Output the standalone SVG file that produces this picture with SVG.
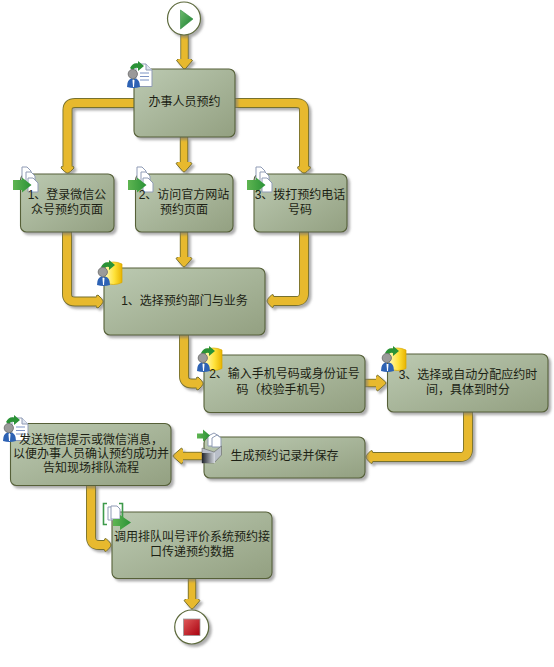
<svg xmlns="http://www.w3.org/2000/svg" xmlns:xlink="http://www.w3.org/1999/xlink" width="554" height="667" viewBox="0 0 554 667">
<style>
text{font-family:"Liberation Sans","Noto Sans CJK SC",sans-serif;font-size:12px;fill:#1c1f14;text-anchor:middle}
.box{fill:url(#nodeFill);stroke:#566138;stroke-width:1.1;filter:url(#sh)}
.o,.O{fill:none;stroke:#77712f;stroke-linejoin:round}
.f,.F{fill:none;stroke:#e7b92d;stroke-linejoin:round}
.o{stroke-width:8.4}.f{stroke-width:6.6}
.O{stroke-width:10}.F{stroke-width:8.2}
.big{marker-end:url(#headBig)}
.small{marker-end:url(#headSmall)}
.ln{stroke:#7d93c4;stroke-width:1;fill:none}
.page{fill:#fff;stroke:#8f9bb5;stroke-width:1}
</style>
<defs>
<linearGradient id="nodeFill" x1="0" y1="0" x2="1" y2="1"><stop offset="0" stop-color="#bccab2"/><stop offset="1" stop-color="#93a081"/></linearGradient>
<linearGradient id="cyl" x1="0" y1="0" x2="1" y2="0"><stop offset="0" stop-color="#fff9b8"/><stop offset=".55" stop-color="#ffe23a"/><stop offset="1" stop-color="#e8b400"/></linearGradient>
<linearGradient id="play" x1="0" y1="0" x2="1" y2="1"><stop offset="0" stop-color="#6dbb6d"/><stop offset="1" stop-color="#1a7f30"/></linearGradient>
<linearGradient id="red" x1="0" y1="0" x2="1" y2="1"><stop offset="0" stop-color="#e05a5a"/><stop offset="1" stop-color="#a8000e"/></linearGradient>
<linearGradient id="tray" x1="0" y1="0" x2="1" y2="0"><stop offset="0" stop-color="#20242c"/><stop offset="1" stop-color="#d9dde3"/></linearGradient>
<linearGradient id="grn" x1="0" y1="0" x2="1" y2="0"><stop offset="0" stop-color="#5fb552"/><stop offset="1" stop-color="#2a9236"/></linearGradient>
<filter id="sh" x="-10%" y="-10%" width="125%" height="125%"><feDropShadow dx="2.5" dy="2.5" stdDeviation="1.2" flood-color="#777" flood-opacity=".6"/></filter>
<marker id="headBig" markerUnits="userSpaceOnUse" markerWidth="16" markerHeight="22" refX="1" refY="11" orient="auto"><path d="M-2,7 L1.500,3 L8,8.600 Q10,10 10,11 Q10,12 8,13.400 L1.500,19 L-2,15Z" fill="#e7b92d" stroke="#77712f"/></marker>
<marker id="headSmall" markerUnits="userSpaceOnUse" markerWidth="12" markerHeight="22" refX="1" refY="11" orient="auto"><path d="M0,5.500 L2,4.500 L5.500,8 Q7,10 7,11 Q7,12 5.500,14 L2,17.500 L0,16.500Z" fill="#e7b92d" stroke="#77712f"/></marker>
<g id="person"><circle cx="5.800" cy="12" r="4.600" fill="#9a9a9a" stroke="#777"/><path d="M0,25 Q0,17 5,16.500 L6.500,18 L8,16.500 Q13,17 13,25 Q6.500,27 0,25Z" fill="#2d62b4"/><path d="M5.500,18 L7.500,18 L7,25 L6,25Z" fill="#fff"/></g>
<path id="curl" d="M0,6 Q3,0 8,1.500 L8,-1 L14,4 L8,9 L8,6 Q4,5 3.500,9Z" fill="#2a9236"/>
<g id="docPerson"><path class="page" d="M9,2 H19 L25,8 V24.500 H9Z"/><path class="ln" d="M13,11 H22 M13,14.500 H22 M13,18 H22"/><path d="M19,2 V8 H25" fill="#dfe5f0" stroke="#8f9bb5"/><use xlink:href="#curl" x="3"/><use xlink:href="#person"/></g>
<g id="docsArrow"><path class="page" d="M9,0 H14 L18,4 V14 H9Z"/><path class="page" d="M13,5 H18 L22,9 V19 H13Z"/><path class="page" d="M15,11 H20 L25,16 V25 H15Z"/><path d="M0,13 H9 V10.500 L18.500,18 L9,25.500 V23 H0Z" fill="url(#grn)"/></g>
<g id="dbPerson"><path d="M8,3 Q16.500,-1 25,3 V21.500 Q16.500,25.500 8,21.500Z" fill="url(#cyl)" stroke="#d9a800" stroke-width=".7"/><use xlink:href="#curl" x="4"/><use xlink:href="#person" y="-1"/></g>
</defs>

<g id="connectors" filter="url(#sh)">
<path class="o big" d="M184.500,34 V60"/><path class="f" d="M184.500,34 V61"/>
<path class="O small" d="M134,103 H75 Q67.500,103 67.500,110 V167"/><path class="F" d="M134,103 H75 Q67.500,103 67.500,110 V168"/>
<path class="o big" d="M184,137 V163"/><path class="f" d="M184,137 V164"/>
<path class="O small" d="M235,103 H296 Q304,103 304,110 V167"/><path class="F" d="M235,103 H296 Q304,103 304,110 V168"/>
<path class="O small" d="M67,232 V294 Q67,301.500 75,301.500 H97"/><path class="F" d="M67,232 V294 Q67,301.500 75,301.500 H98"/>
<path class="o big" d="M184,232 V258"/><path class="f" d="M184,232 V259"/>
<path class="O small" d="M304,232 V293 Q304,301 296,301 H273"/><path class="F" d="M304,232 V293 Q304,301 296,301 H272"/>
<path class="O small" d="M184,335 V376 Q184,383.500 192,383.500 H197"/><path class="F" d="M184,335 V376 Q184,383.500 192,383.500 H198"/>
<path class="o big" d="M365,383 H377"/><path class="f" d="M365,383 H378"/>
<path class="O small" d="M468,412 V449 Q468,457 460,457 H372"/><path class="F" d="M468,412 V449 Q468,457 460,457 H371"/>
<path class="o big" d="M204,456 H182"/><path class="f" d="M204,456 H181"/>
<path class="O small" d="M91,485 V537 Q91,545 99,545 H105"/><path class="F" d="M91,485 V537 Q91,545 99,545 H106"/>
<path class="o big" d="M192,578 V600"/><path class="f" d="M192,578 V601"/>
</g>

<g id="start"><circle cx="184" cy="18.500" r="16.500" fill="#fff" stroke="#5d6a3c" stroke-width="1.200" filter="url(#sh)"/><path d="M180.500,10 L193,19 L180.500,29Z" fill="url(#play)" stroke="#2e8b3c" stroke-width=".6"/></g>

<g id="n-apply"><rect class="box" x="134" y="69" width="101" height="68" rx="6"/><use xlink:href="#docPerson" x="127" y="62"/><text x="184.500" y="106">办事人员预约</text></g>

<g id="n-wechat"><rect class="box" x="20.500" y="174" width="93.500" height="58" rx="6"/><use xlink:href="#docsArrow" x="13" y="167"/><text x="67" y="199">1、登录微信公</text><text x="67" y="214">众号预约页面</text></g>
<g id="n-web"><rect class="box" x="135.500" y="174" width="97.500" height="58" rx="6"/><use xlink:href="#docsArrow" x="128" y="167"/><text x="184" y="199">2、访问官方网站</text><text x="184" y="214">预约页面</text></g>
<g id="n-phone"><rect class="box" x="254" y="174" width="93" height="58" rx="6"/><use xlink:href="#docsArrow" x="247" y="167"/><text x="300" y="199">3、拨打预约电话</text><text x="300" y="214">号码</text></g>

<g id="n-dept"><rect class="box" x="104" y="268" width="161" height="67" rx="6"/><use xlink:href="#dbPerson" x="97" y="261"/><text x="184.500" y="305">1、选择预约部门与业务</text></g>
<g id="n-input"><rect class="box" x="204" y="355" width="161" height="57.500" rx="6"/><use xlink:href="#dbPerson" x="197" y="347"/><text x="284.500" y="378">2、输入手机号码或身份证号</text><text x="284.500" y="394">码（校验手机号）</text></g>
<g id="n-time"><rect class="box" x="387.500" y="354" width="160.500" height="58" rx="6"/><use xlink:href="#dbPerson" x="381" y="347"/><text x="468" y="379">3、选择或自动分配应约时</text><text x="468" y="394">间，具体到时分</text></g>

<g id="n-save"><rect class="box" x="204" y="437" width="161" height="41" rx="6"/>
<g><path class="page" d="M208,436 L214,433 L219,436 V446 H208Z"/><path class="page" d="M212,438 L217,435 L221,438 V447 H212Z"/><path d="M202,448 L214,452 L221.500,446 V455 L214,463 H202Z" fill="#b9bfc9" stroke="#555" stroke-width=".5"/><rect x="202" y="453" width="13" height="10" fill="url(#tray)"/><path d="M197,433.500 H203 V429.500 L210,435.500 L203,441.500 V438.500 H197Z" fill="url(#grn)"/></g>
<text x="284.500" y="460">生成预约记录并保存</text></g>

<g id="n-notify"><rect class="box" x="10.500" y="423.500" width="160.500" height="62" rx="6"/><use xlink:href="#docPerson" x="3" y="416"/><text x="91" y="443.500">发送短信提示或微信消息，</text><text x="91" y="458">以便办事人员确认预约成功并</text><text x="91" y="472">告知现场排队流程</text></g>

<g id="n-api"><rect class="box" x="112" y="512" width="160" height="66.500" rx="6"/>
<g><path d="M107,503.500 H103.500 V524.500 H107 M119,503.500 H122.500 V524.500 H119" fill="none" stroke="#3d9a4a" stroke-width="1.600"/><path class="page" d="M108,507 H114 L117,510 V520 H108Z"/><path class="page" d="M111,506 H117 L120,509 V519 H111Z"/><path d="M113,519 H120 V515 L131,522.500 L120,530 V526 H113Z" fill="url(#grn)"/></g>
<text x="192" y="541">调用排队叫号评价系统预约接</text><text x="192" y="556">口传递预约数据</text></g>

<g id="end"><circle cx="191.700" cy="627" r="17" fill="#fff" stroke="#5d6a3c" stroke-width="1.200" filter="url(#sh)"/><rect x="183.500" y="619" width="16.500" height="16.500" fill="url(#red)" stroke="#999" stroke-width=".8"/></g>
</svg>
